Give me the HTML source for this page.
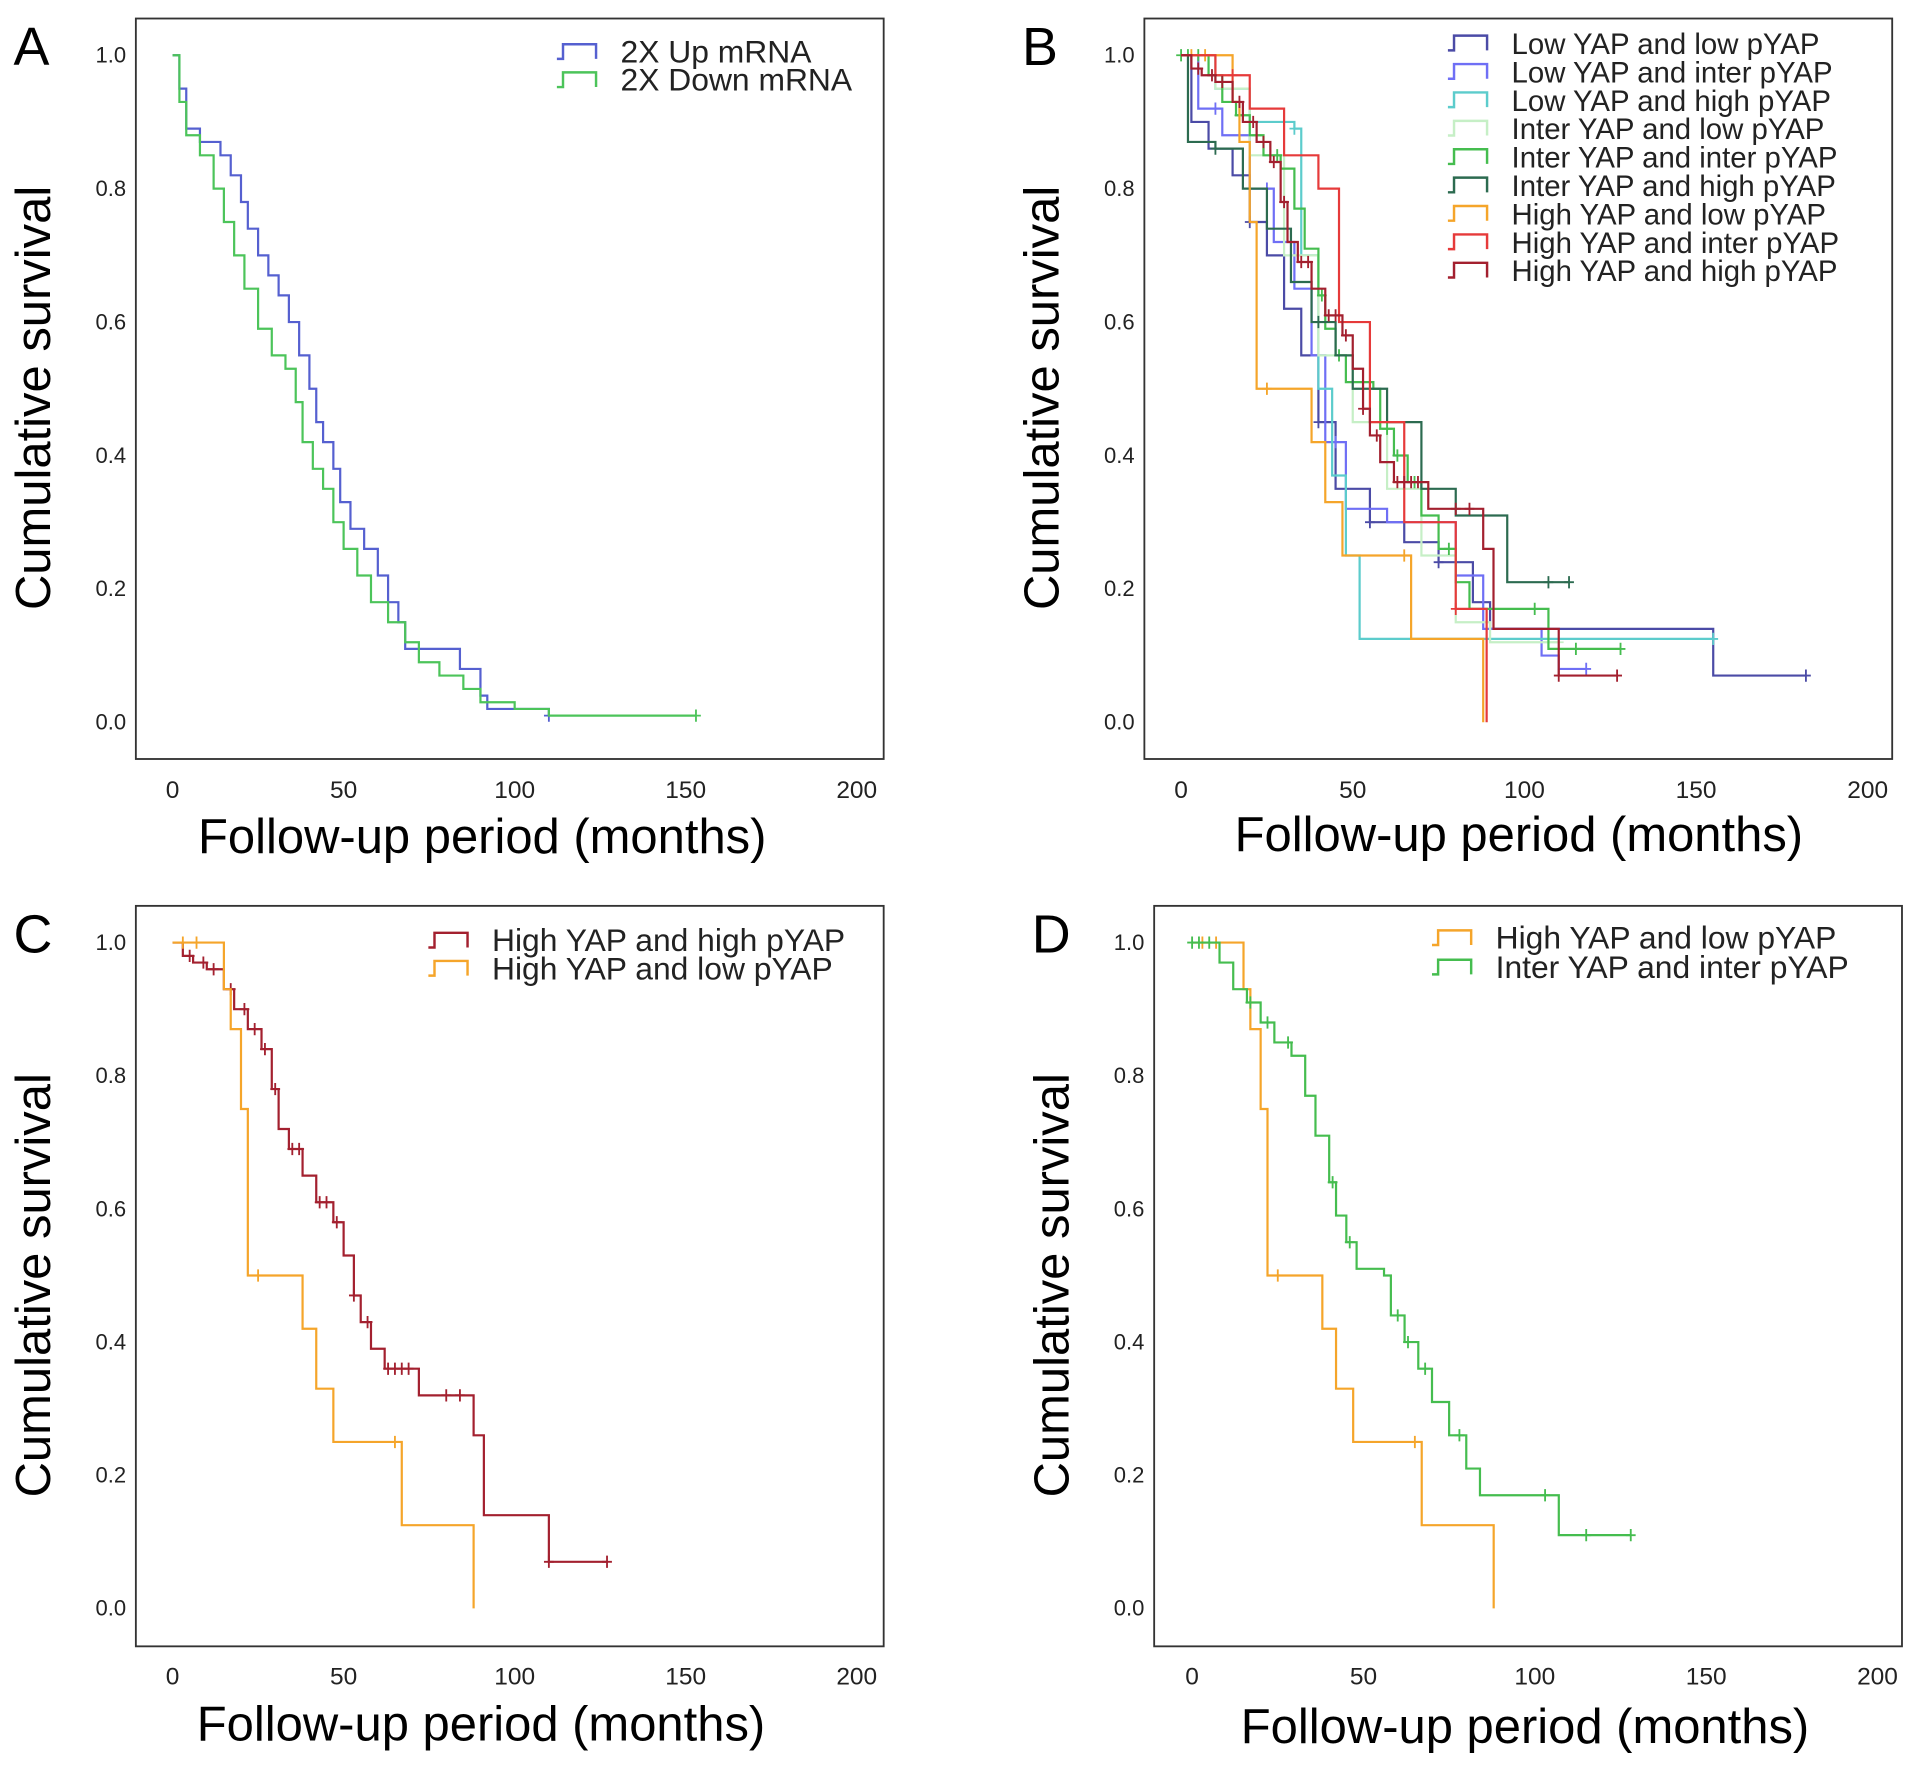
<!DOCTYPE html>
<html><head><meta charset="utf-8"><style>
html,body{margin:0;padding:0;background:#fff}
svg text{font-family:"Liberation Sans",Arial,sans-serif}
</style></head><body>
<svg id="fig" width="1913" height="1764" viewBox="0 0 1563 1441" xmlns="http://www.w3.org/2000/svg"></svg>
<script>
// ---- data (time in months, survival fraction) ----
const xTicks = [0, 50, 100, 150, 200];
const yTicks = [0.0, 0.2, 0.4, 0.6, 0.8, 1.0];
const upT = [0,2,4,8,14,17,20,22,25,28,31,34,37,40,42,44,47,49,52,56,60,63,66,68,84,90,92,110];
const upS = [1,0.95,0.89,0.87,0.85,0.82,0.78,0.74,0.70,0.67,0.64,0.60,0.55,0.50,0.45,0.42,0.38,0.33,0.29,0.26,0.22,0.18,0.15,0.11,0.08,0.04,0.02,0.01];
const downT = [0,2,4,8,12,15,18,21,25,29,33,36,38,41,44,47,50,54,58,63,68,72,78,85,90,100,110,153];
const downS = [1,0.93,0.88,0.85,0.80,0.75,0.70,0.65,0.59,0.55,0.53,0.48,0.42,0.38,0.35,0.30,0.26,0.22,0.18,0.15,0.12,0.09,0.07,0.05,0.03,0.02,0.01,0.01];
const hhT = [0,3,6,10,15,18,22,26,29,31,34,38,42,47,50,53,55,58,62,72,88,91,110,127];
const hhS = [1,0.98,0.97,0.96,0.93,0.90,0.87,0.84,0.78,0.72,0.69,0.65,0.61,0.58,0.53,0.47,0.43,0.39,0.36,0.32,0.26,0.14,0.07,0.07];
const hhC = [5,9,12,17,21,24,27,30,35,37,43,45,48,53,57,63,65,67,69,80,84,110,127];
const hlT = [0,15,17,20,22,38,42,47,66,67,87,88];
const hlS = [1,0.93,0.87,0.75,0.50,0.42,0.33,0.25,0.25,0.125,0.125,0.0];
const hlC = [3,7,25,65];
const iiT = [0,8,12,16,20,24,29,33,36,40,42,45,48,56,58,62,66,70,75,80,84,107,128];
const iiS = [1,0.97,0.93,0.91,0.88,0.85,0.83,0.77,0.71,0.64,0.59,0.55,0.51,0.50,0.44,0.40,0.36,0.31,0.26,0.21,0.17,0.11,0.11];
const iiC = [0,2,5,17,22,28,41,46,60,63,68,78,103,115,128];
const llT = [0,3,8,15,20,25,30,35,40,45,55,65,75,85,90,155,182];
const llS = [1,0.90,0.86,0.82,0.75,0.70,0.62,0.55,0.45,0.35,0.30,0.27,0.24,0.18,0.14,0.07,0.07];
const liT = [0,5,12,20,27,33,38,42,48,60,80,88,105,110,118];
const liS = [1,0.92,0.88,0.80,0.72,0.65,0.55,0.42,0.32,0.30,0.22,0.14,0.10,0.08,0.08];
const lhT = [0,10,20,33,35,40,44,48,52,155];
const lhS = [1,0.95,0.90,0.89,0.70,0.50,0.37,0.25,0.125,0.125];
const ilT = [0,10,20,30,40,50,60,70,80,90,110];
const ilS = [1,0.95,0.85,0.70,0.55,0.45,0.35,0.25,0.15,0.12,0.12];
const ihT = [0,2,10,18,25,32,38,45,50,60,70,80,95,113];
const ihS = [1,0.87,0.86,0.80,0.74,0.66,0.60,0.55,0.50,0.45,0.35,0.31,0.21,0.21];
const hiT = [0,10,20,30,40,45,46,55,65,78,80,88,89];
const hiS = [1,0.97,0.92,0.85,0.80,0.80,0.60,0.45,0.30,0.30,0.17,0.17,0.0];

const C = {ll:'#4b4ba6',li:'#6f6ff5',lh:'#5ccccc',il:'#c6efc6',ii:'#45bd4f',ih:'#2c6b50',hl:'#f5a52a',hi:'#e63a3a',hh:'#a3202f',up:'#5560d0',down:'#4cc45a'};

const NS='http://www.w3.org/2000/svg';
const svg=document.getElementById('fig');
function mk(tag,attrs,parent,text){const e=document.createElementNS(NS,tag);for(const k in attrs)e.setAttribute(k,attrs[k]);if(text!==undefined)e.textContent=text;(parent||svg).appendChild(e);return e;}

const panels = {
 A:{fx:111,fy:15,x0:141,x200:700,y1:45,y0:590,legX:455,legY:42,tickY:652,titleY:697,tcx:394},
 B:{fx:935,fy:15,x0:965,x200:1526,y1:45,y0:590,legX:1183,legY:35,tickY:652,titleY:695,tcx:1241},
 C:{fx:111,fy:740,x0:141,x200:700,y1:770,y0:1314,legX:350,legY:768,tickY:1376,titleY:1422,tcx:393},
 D:{fx:943,fy:740,x0:974,x200:1534,y1:770,y0:1314,legX:1170,legY:766,tickY:1376,titleY:1424,tcx:1246}
};

function drawPanel(key,series,legend,legStep,legFont){
  const p=panels[key];
  const g=mk('g',{});
  
  
  const sx=t=>p.x0+(p.x200-p.x0)*t/200;
  const sy=v=>p.y0-(p.y0-p.y1)*v;
  const fr=mk('rect',{x:p.fx,y:p.fy,width:611,height:605,fill:'none',stroke:'#333','stroke-width':1.5},g);
  
  const pl=mk('text',{x:p.fx-100,y:p.fy+38,'font-size':44},g,key);
  
  xTicks.forEach(t=>{const e=mk('text',{x:sx(t),y:p.tickY,'font-size':20,'text-anchor':'middle',fill:'#222'},g,String(t));
    });
  yTicks.forEach(v=>{const e=mk('text',{x:p.fx-8,y:sy(v)+6,'font-size':18,'text-anchor':'end',fill:'#222'},g,v.toFixed(1));
    });
  const xt=mk('text',{x:p.tcx,y:p.titleY,'font-size':40,'text-anchor':'middle'},g,'Follow-up period (months)');
  
  const cy=p.fy+310;
  const yt=mk('text',{x:0,y:0,'font-size':40,'text-anchor':'middle',transform:`translate(${p.fx-70},${cy}) rotate(-90)`},g,'Cumulative survival');
  
  series.forEach(s=>{
    let d=`M${sx(s.t[0])},${sy(s.s[0])}`;
    for(let i=1;i<s.t.length;i++){d+=` H${sx(s.t[i])} V${sy(s.s[i])}`;}
    const path=mk('path',{d:d,fill:'none',stroke:s.c,'stroke-width':1.8},g);
    
    
    const cens=s.cz||[s.t[s.t.length-1]];
    cens.forEach(ct=>{
      let v=s.s[0];for(let i=0;i<s.t.length;i++){if(s.t[i]<=ct)v=s.s[i];}
      const m=mk('path',{d:`M${sx(ct)},${sy(v)-5} V${sy(v)+5} M${sx(ct)-4},${sy(v)} H${sx(ct)+4}`,stroke:s.c,'stroke-width':1.5},g);
      
      
    });
  });
  legend.forEach((l,i)=>{
    const y=p.legY+i*legStep;const x=p.legX;
    const lg=mk('path',{d:`M${x},${y+6} H${x+5} V${y-6} H${x+32} V${y+6}`,fill:'none',stroke:l.c,'stroke-width':2},g);
    
    const lt=mk('text',{x:x+52,y:y+9,'font-size':legFont,fill:'#222'},g,l.label);
    
  });
}

drawPanel('A',[{n:'up',t:upT,s:upS,c:C.up},{n:'down',t:downT,s:downS,c:C.down}],
 [{c:C.up,label:'2X Up mRNA'},{c:C.down,label:'2X Down mRNA'}],23,26);
drawPanel('B',[
 {n:'low-low',t:llT,s:llS,c:C.ll,cz:[20,40,55,75,182]},
 {n:'low-inter',t:liT,s:liS,c:C.li,cz:[10,25,45,118]},
 {n:'low-high',t:lhT,s:lhS,c:C.lh,cz:[33,155]},
 {n:'inter-low',t:ilT,s:ilS,c:C.il},
 {n:'inter-inter',t:iiT,s:iiS,c:C.ii,cz:iiC},
 {n:'inter-high',t:ihT,s:ihS,c:C.ih,cz:[10,40,113,107]},
 {n:'high-low',t:hlT,s:hlS,c:C.hl,cz:hlC},
 {n:'high-inter',t:hiT,s:hiS,c:C.hi,cz:[15,80]},
 {n:'high-high',t:hhT,s:hhS,c:C.hh,cz:hhC}],
 [{c:C.ll,label:'Low YAP and low pYAP'},{c:C.li,label:'Low YAP and inter pYAP'},{c:C.lh,label:'Low YAP and high pYAP'},
  {c:C.il,label:'Inter YAP and low pYAP'},{c:C.ii,label:'Inter YAP and inter pYAP'},{c:C.ih,label:'Inter YAP and high pYAP'},
  {c:C.hl,label:'High YAP and low pYAP'},{c:C.hi,label:'High YAP and inter pYAP'},{c:C.hh,label:'High YAP and high pYAP'}],23.2,24);
drawPanel('C',[{n:'high-high',t:hhT,s:hhS,c:C.hh,cz:hhC},{n:'high-low',t:hlT,s:hlS,c:C.hl,cz:hlC}],
 [{c:C.hh,label:'High YAP and high pYAP'},{c:C.hl,label:'High YAP and low pYAP'}],23,26);
drawPanel('D',[{n:'high-low',t:hlT,s:hlS,c:C.hl,cz:hlC},{n:'inter-inter',t:iiT,s:iiS,c:C.ii,cz:iiC}],
 [{c:C.hl,label:'High YAP and low pYAP'},{c:C.ii,label:'Inter YAP and inter pYAP'}],24,26);
</script>
</body></html>
